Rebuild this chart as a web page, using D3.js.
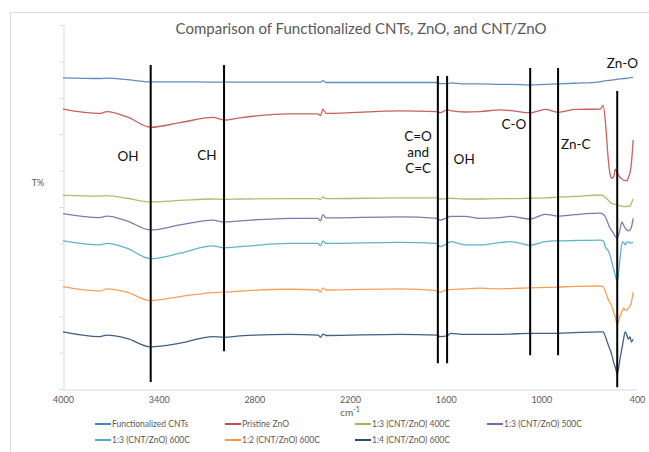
<!DOCTYPE html>
<html>
<head>
<meta charset="utf-8">
<script src="https://cdn.jsdelivr.net/npm/d3@7"></script>
<style>
  html, body { margin: 0; padding: 0; background: #ffffff; }
  svg { display: block; font-family: Lato, "Open Sans", sans-serif; }
</style>
</head>
<body>
<svg id="chart" width="649" height="452"></svg>
<script>
// ---------------- DATA ----------------
const chartTitle = "Comparison of Functionalized CNTs, ZnO, and CNT/ZnO";
const xAxisTitle = "cm";
const yAxisTitle = "T%";
const xTickLabels = [4000, 3400, 2800, 2200, 1600, 1000, 400];
const yTickValues = [0, 10, 20, 30, 40, 50, 60, 70, 80, 90, 100];

const wavenumbers = [4000, 3770, 3725, 3600, 3450, 3265, 3060, 2990, 2890, 2580,
  2400, 2385, 2370, 2350,
  1890, 1655, 1635, 1590, 1570, 1480, 1385, 1260, 1195, 1070, 975, 895, 790,
  630, 612, 595, 580, 568, 556, 545, 537, 524, 506, 494, 485, 474, 462, 455, 443, 435, 424];

const seriesNames = ["Functionalized CNTs", "Pristine ZnO", "1:3 (CNT/ZnO) 400C",
  "1:3 (CNT/ZnO) 500C", "1:3 (CNT/ZnO) 600C", "1:2 (CNT/ZnO) 600C", "1:4 (CNT/ZnO) 600C"];

const functionalizedCNTs = [85.5, 85.3, 85.4, 85.0, 84.4, 84.4, 84.3, 84.3, 84.3, 84.3,
  84.3, 84.3, 84.7, 84.2,
  84.2, 84.2, 83.9, 83.9, 84.1, 83.8, 83.8, 83.7, 83.7, 83.5, 83.7, 83.8, 84.0,
  84.4, 84.6, 84.7, 84.8, 84.8, 84.9, 84.9, 85.0, 85.1, 85.2, 85.2, 85.3, 85.3, 85.4, 85.4, 85.5, 85.6, 85.6];
const pristineZnO = [76.9, 75.7, 76.2, 74.8, 71.9, 73.2, 74.6, 73.9, 74.5, 75.6,
  75.6, 75.1, 76.9, 75.7,
  76.4, 76.2, 75.9, 76.7, 76.5, 76.1, 76.2, 76.7, 76.5, 75.9, 76.8, 76.0, 76.8,
  76.9, 77.9, 71.7, 62.9, 58.8, 57.9, 58.4, 60.4, 59.3, 58.1, 57.7, 57.4, 57.3, 57.1, 58.0, 59.6, 62.1, 68.4];
const cntZnO13_400C = [53.2, 53.0, 53.1, 52.4, 51.4, 51.8, 52.2, 52.1, 52.2, 52.3,
  52.3, 52.0, 52.8, 52.3,
  52.5, 52.5, 52.2, 52.3, 52.4, 52.2, 52.2, 52.3, 52.3, 52.4, 52.5, 52.7, 52.9,
  53.3, 53.1, 52.5, 51.9, 51.2, 51.0, 50.8, 50.7, 50.6, 50.4, 50.2, 50.1, 50.1, 50.2, 50.2, 50.3, 51.0, 52.3];
const cntZnO13_500C = [48.2, 47.1, 47.5, 46.2, 43.7, 45.1, 46.4, 45.9, 46.2, 46.9,
  46.9, 46.2, 47.9, 47.0,
  47.3, 46.9, 46.4, 47.1, 47.4, 47.4, 46.9, 47.1, 47.4, 46.7, 48.0, 47.5, 47.9,
  48.3, 48.0, 47.0, 45.3, 44.1, 43.4, 42.6, 42.0, 41.5, 44.0, 45.9, 45.1, 44.2, 43.7, 43.5, 43.7, 44.5, 46.9];
const cntZnO13_600C = [40.7, 39.6, 40.0, 38.7, 35.8, 37.3, 39.3, 38.8, 39.1, 40.0,
  40.0, 39.3, 40.7, 40.0,
  40.3, 40.0, 39.1, 40.0, 40.5, 39.6, 39.6, 40.2, 40.5, 39.5, 40.5, 40.7, 40.8,
  40.9, 40.7, 38.7, 38.0, 36.6, 34.6, 32.7, 31.3, 29.5, 36.0, 40.1, 40.4, 39.6, 40.4, 40.4, 40.1, 40.2, 40.3];
const cntZnO12_600C = [28.1, 26.9, 27.5, 26.6, 24.3, 25.4, 26.5, 26.6, 26.9, 27.4,
  27.2, 26.6, 27.8, 27.2,
  27.5, 27.0, 26.6, 27.3, 27.3, 27.5, 27.7, 27.5, 27.6, 27.8, 27.9, 28.0, 28.2,
  28.3, 28.1, 26.4, 24.5, 23.6, 22.5, 20.9, 19.9, 17.9, 20.1, 21.3, 22.2, 21.7, 21.7, 22.2, 22.8, 23.9, 26.6];
const cntZnO14_600C = [15.7, 14.4, 14.8, 13.9, 11.6, 12.6, 14.4, 14.2, 14.6, 15.0,
  14.8, 14.2, 15.1, 14.7,
  15.0, 14.8, 14.4, 14.6, 15.3, 15.0, 15.0, 15.0, 15.1, 15.3, 15.3, 15.3, 15.5,
  15.7, 15.7, 14.0, 12.1, 10.7, 9.1, 7.1, 6.1, 4.1, 8.5, 11.3, 13.5, 15.7, 14.6, 13.7, 14.3, 12.9, 13.7];

const seriesColors = ["#4F81BD", "#C0504D", "#9BBB59", "#8064A2", "#4BACC6", "#F79646", "#2C4D75"];

// Band marker lines (wavenumber, top T%, bottom T%)
const bandWavenumbers = [3450, 2990, 1649, 1591, 1070, 895, 524];
const bandTop = [89.0, 89.0, 86.0, 86.0, 88.2, 88.2, 81.9];
const bandBottom = [1.9, 10.4, 7.1, 7.1, 9.3, 9.3, 0.5];

// Band labels (text lines, wavenumber centre, T% of first line)
const bandLabelTexts = [["OH"], ["CH"], ["C=O", "and", "C=C"], ["OH"], ["C-O"], ["Zn-C"], ["Zn-O"]];
const bandLabelWavenumbers = [3592, 3097, 1773, 1484, 1172, 784, 491];
const bandLabelT = [64.0, 64.3, 69.5, 63.2, 72.8, 67.3, 89.6];

// ---------------- DRAW ----------------
const svg = d3.select("#chart");
const plot = { left: 63, right: 637, top: 25, bottom: 389 };

// outer chart border
svg.append("rect")
  .attr("x", 10.5).attr("y", 12.5)
  .attr("width", 700).attr("height", 500)
  .attr("fill", "none").attr("stroke", "#D9D9D9").attr("stroke-width", 1);

const x = d3.scaleLinear().domain([4000, 400]).range([plot.left, plot.right]);
const y = d3.scaleLinear().domain([0, 100]).range([plot.bottom, plot.top]);

// y axis
const yAxis = svg.append("g")
  .attr("transform", `translate(${plot.left + 0.5},0)`)
  .call(d3.axisLeft(y).tickValues(yTickValues).tickFormat("").tickSize(4).tickSizeOuter(0));
yAxis.selectAll("path, line").attr("stroke", "#D9D9D9");

// x axis
const xAxis = svg.append("g")
  .attr("transform", `translate(0,${plot.bottom + 0.5})`)
  .call(d3.axisBottom(x).tickValues(xTickLabels).tickFormat(d3.format("d")).tickSize(0).tickPadding(7));
xAxis.select("path").attr("stroke", "#D9D9D9");
xAxis.selectAll("text").attr("fill", "#595959").attr("font-size", 9).attr("font-family", "Lato, sans-serif");

// title
svg.append("text")
  .attr("x", 361).attr("y", 34)
  .attr("text-anchor", "middle")
  .attr("fill", "#595959")
  .attr("font-size", 15)
  .text(chartTitle);

// y title
svg.append("text")
  .attr("x", 38).attr("y", 186)
  .attr("text-anchor", "middle")
  .attr("fill", "#595959")
  .attr("font-size", 9)
  .text(yAxisTitle);

// x title with superscript
const xt = svg.append("text")
  .attr("x", 350).attr("y", 416)
  .attr("text-anchor", "middle")
  .attr("fill", "#595959")
  .attr("font-size", 10);
xt.append("tspan").text(xAxisTitle);
xt.append("tspan").attr("dy", -4).attr("font-size", 7).text("-1");

// series lines
const allSeries = [functionalizedCNTs, pristineZnO, cntZnO13_400C, cntZnO13_500C,
  cntZnO13_600C, cntZnO12_600C, cntZnO14_600C];
const line = d3.line()
  .x((d, i) => x(wavenumbers[i]))
  .y(d => y(d))
  .curve(d3.curveMonotoneX);

svg.append("g").selectAll("path")
  .data(allSeries)
  .join("path")
  .attr("d", d => line(d))
  .attr("fill", "none")
  .attr("stroke", (d, i) => seriesColors[i])
  .attr("stroke-width", 1.3)
  .attr("stroke-opacity", 0.9)
  .attr("stroke-linejoin", "round");

// band marker lines
svg.append("g").selectAll("line")
  .data(bandWavenumbers)
  .join("line")
  .attr("x1", d => x(d)).attr("x2", d => x(d))
  .attr("y1", (d, i) => y(bandTop[i]))
  .attr("y2", (d, i) => y(bandBottom[i]))
  .attr("stroke", "#000")
  .attr("stroke-width", 2);

// band labels
const lbl = svg.append("g").selectAll("text")
  .data(bandLabelTexts)
  .join("text")
  .attr("x", (d, i) => x(bandLabelWavenumbers[i]))
  .attr("y", (d, i) => y(bandLabelT[i]) + 5)
  .attr("text-anchor", "middle")
  .attr("fill", "#111")
  .attr("font-size", 13.5);
lbl.selectAll("tspan")
  .data(d => d)
  .join("tspan")
  .attr("x", function () { return this.parentNode.getAttribute("x"); })
  .attr("dy", (d, i) => i === 0 ? 0 : 16)
  .text(d => d);

// legend
const legendX = [95, 225, 355, 487];
const legendY = [424, 440];
const legend = svg.append("g");
seriesNames.forEach((name, i) => {
  const col = i % 4, row = Math.floor(i / 4);
  const g = legend.append("g").attr("transform", `translate(${legendX[col]},${legendY[row]})`);
  g.append("line").attr("x1", 0).attr("x2", 16).attr("y1", 0).attr("y2", 0)
    .attr("stroke", seriesColors[i]).attr("stroke-width", 2);
  g.append("text").attr("x", 17).attr("y", 3)
    .attr("fill", "#595959").attr("font-size", 8.5).text(name);
});
</script>
</body>
</html>
